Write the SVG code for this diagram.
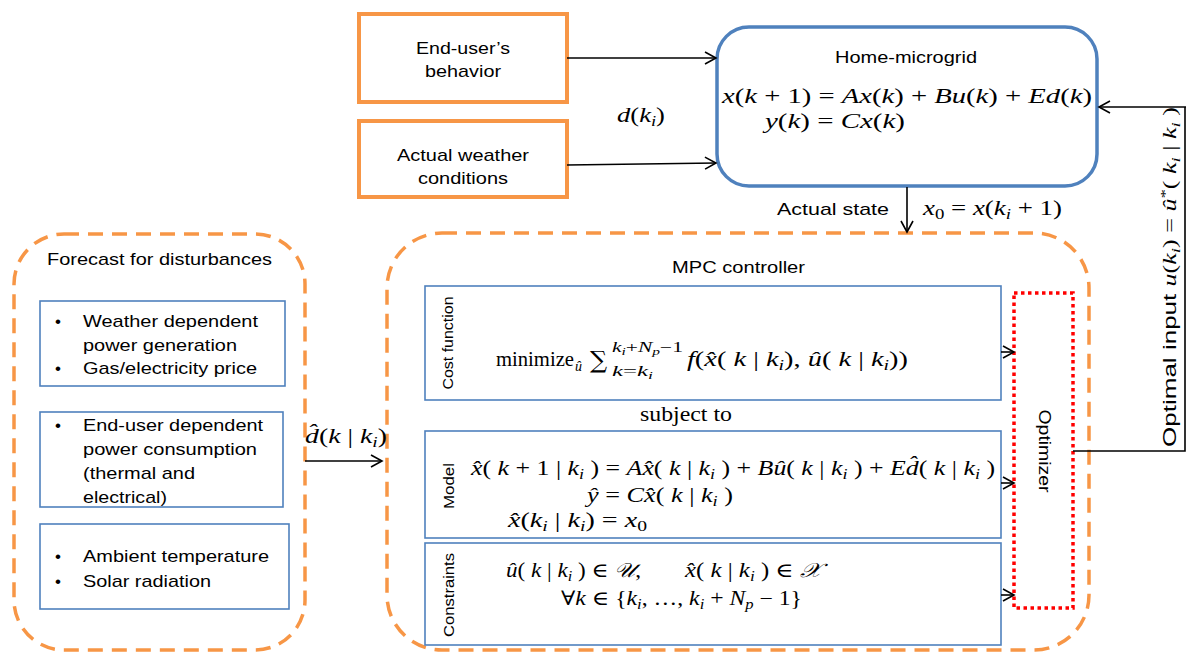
<svg xmlns="http://www.w3.org/2000/svg" width="1186" height="655" viewBox="0 0 1186 655">
<style>
.s{font-family:"Liberation Sans",Arial,sans-serif;fill:#000}
.m{font-family:"Liberation Serif","DejaVu Serif",serif;fill:#000}
.i{font-style:italic}
.ob{fill:#fff;stroke:#F79646;stroke-width:4}
.od{fill:none;stroke:#F79646;stroke-width:3.5;stroke-dasharray:15 9}
.bb{fill:#fff;stroke:#4F81BD;stroke-width:1.6}
.cn{fill:none;stroke:#000;stroke-width:1.6}
</style>
<defs>
<marker id="arr" markerWidth="14" markerHeight="14" refX="12" refY="7" orient="auto" markerUnits="userSpaceOnUse"><path d="M1,1 L12,7 L1,13" fill="none" stroke="#000" stroke-width="1.6"/></marker>
</defs>
<rect width="1186" height="655" fill="#fff"/>

<g id="forecast">
<rect class="od" x="14" y="234" width="291" height="416" rx="50"/>
<text class="s" x="47" y="265" font-size="17" textLength="225" lengthAdjust="spacingAndGlyphs">Forecast for disturbances</text>
</g>
<g id="forecast-weather">
<rect class="bb" x="40" y="301" width="245" height="85"/>
<text class="s" x="55" y="327" font-size="17">•</text>
<text class="s" x="55" y="374" font-size="17">•</text>
<text class="s" x="83" y="327" font-size="17" textLength="175" lengthAdjust="spacingAndGlyphs">Weather dependent</text>
<text class="s" x="83" y="351" font-size="17" textLength="154" lengthAdjust="spacingAndGlyphs">power generation</text>
<text class="s" x="83" y="374" font-size="17" textLength="174" lengthAdjust="spacingAndGlyphs">Gas/electricity price</text>
</g>
<g id="forecast-enduser">
<rect class="bb" x="40" y="412" width="243" height="95"/>
<text class="s" x="55" y="431" font-size="17">•</text>
<text class="s" x="83" y="431" font-size="17" textLength="180" lengthAdjust="spacingAndGlyphs">End-user dependent</text>
<text class="s" x="83" y="455" font-size="17" textLength="174" lengthAdjust="spacingAndGlyphs">power consumption</text>
<text class="s" x="83" y="479" font-size="17" textLength="112" lengthAdjust="spacingAndGlyphs">(thermal and</text>
<text class="s" x="83" y="503" font-size="17" textLength="84" lengthAdjust="spacingAndGlyphs">electrical)</text>
</g>
<g id="forecast-ambient">
<rect class="bb" x="40" y="524" width="249" height="85"/>
<text class="s" x="55" y="562" font-size="17">•</text>
<text class="s" x="55" y="587" font-size="17">•</text>
<text class="s" x="83" y="562" font-size="17" textLength="186" lengthAdjust="spacingAndGlyphs">Ambient temperature</text>
<text class="s" x="83" y="587" font-size="17" textLength="128" lengthAdjust="spacingAndGlyphs">Solar radiation</text>
</g>

<g id="enduser">
<rect class="ob" x="359" y="14" width="208" height="88"/>
<text class="s" x="416" y="54" font-size="17" textLength="94" lengthAdjust="spacingAndGlyphs">End-user’s</text>
<text class="s" x="425" y="77" font-size="17" textLength="76" lengthAdjust="spacingAndGlyphs">behavior</text>
</g>
<g id="weather">
<rect class="ob" x="359" y="121" width="208" height="76"/>
<text class="s" x="397" y="161" font-size="17" textLength="132" lengthAdjust="spacingAndGlyphs">Actual weather</text>
<text class="s" x="418" y="184" font-size="17" textLength="90" lengthAdjust="spacingAndGlyphs">conditions</text>
</g>

<g id="home">
<rect x="717" y="27" width="380" height="159" rx="32" fill="#fff" stroke="#4F81BD" stroke-width="3.5"/>
<text class="s" x="835" y="63" font-size="17" textLength="142" lengthAdjust="spacingAndGlyphs">Home-microgrid</text>
<text class="m" x="722" y="103" font-size="20" textLength="370" lengthAdjust="spacingAndGlyphs"><tspan class="i">x</tspan>(<tspan class="i">k</tspan> + 1) = <tspan class="i">Ax</tspan>(<tspan class="i">k</tspan>) + <tspan class="i">Bu</tspan>(<tspan class="i">k</tspan>) + <tspan class="i">Ed</tspan>(<tspan class="i">k</tspan>)</text>
<text class="m" x="765" y="128" font-size="20" textLength="140" lengthAdjust="spacingAndGlyphs"><tspan class="i">y</tspan>(<tspan class="i">k</tspan>) = <tspan class="i">Cx</tspan>(<tspan class="i">k</tspan>)</text>
</g>

<g id="mpc">
<rect class="od" x="387" y="233" width="702" height="417" rx="55"/>
<text class="s" x="672" y="273" font-size="17" textLength="133" lengthAdjust="spacingAndGlyphs">MPC controller</text>
<text class="m" x="640" y="421" font-size="20" textLength="92" lengthAdjust="spacingAndGlyphs">subject to</text>
</g>

<g id="cost">
<rect class="bb" x="425" y="286" width="576" height="114"/>
<text class="s" transform="translate(453,343) rotate(-90)" text-anchor="middle" font-size="15" textLength="93" lengthAdjust="spacingAndGlyphs">Cost function</text>
<text class="m" x="496" y="366" font-size="20" textLength="78" lengthAdjust="spacingAndGlyphs">minimize</text>
<text class="m i" x="575" y="371" font-size="14">û</text>
<text x="590" y="368" font-size="24" font-family="DejaVu Serif, serif">∑</text>
<text class="m" x="612" y="352" font-size="14" textLength="71" lengthAdjust="spacingAndGlyphs"><tspan class="i">k</tspan><tspan class="i" font-size="10" dy="3">i</tspan><tspan dy="-3">+</tspan><tspan class="i">N</tspan><tspan class="i" font-size="10" dy="3">p</tspan><tspan dy="-3">−1</tspan></text>
<text class="m" x="612" y="376" font-size="14" textLength="41" lengthAdjust="spacingAndGlyphs"><tspan class="i">k</tspan>=<tspan class="i">k</tspan><tspan class="i" font-size="10" dy="3">i</tspan></text>
<text class="m" x="687" y="366" font-size="20" textLength="221" lengthAdjust="spacingAndGlyphs"><tspan class="i">f</tspan>(<tspan class="i">x̂</tspan>( <tspan class="i">k</tspan> | <tspan class="i">k</tspan><tspan class="i" font-size="14" dy="4">i</tspan><tspan dy="-4">), </tspan><tspan class="i">û</tspan>( <tspan class="i">k</tspan> | <tspan class="i">k</tspan><tspan class="i" font-size="14" dy="4">i</tspan><tspan dy="-4">))</tspan></text>
</g>

<g id="model">
<rect class="bb" x="425" y="431" width="576" height="107"/>
<text class="s" transform="translate(454,486) rotate(-90)" text-anchor="middle" font-size="15" textLength="46" lengthAdjust="spacingAndGlyphs">Model</text>
<text class="m" x="471" y="475" font-size="20" textLength="524" lengthAdjust="spacingAndGlyphs"><tspan class="i">x̂</tspan>( <tspan class="i">k</tspan> + 1 | <tspan class="i">k</tspan><tspan class="i" font-size="14" dy="4">i</tspan><tspan dy="-4"> ) = </tspan><tspan class="i">Ax̂</tspan>( <tspan class="i">k</tspan> | <tspan class="i">k</tspan><tspan class="i" font-size="14" dy="4">i</tspan><tspan dy="-4"> ) + </tspan><tspan class="i">Bû</tspan>( <tspan class="i">k</tspan> | <tspan class="i">k</tspan><tspan class="i" font-size="14" dy="4">i</tspan><tspan dy="-4"> ) + </tspan><tspan class="i">Ed̂</tspan>( <tspan class="i">k</tspan> | <tspan class="i">k</tspan><tspan class="i" font-size="14" dy="4">i</tspan><tspan dy="-4"> )</tspan></text>
<text class="m" x="587" y="502" font-size="20" textLength="146" lengthAdjust="spacingAndGlyphs"><tspan class="i">ŷ</tspan> = <tspan class="i">Cx̂</tspan>( <tspan class="i">k</tspan> | <tspan class="i">k</tspan><tspan class="i" font-size="14" dy="4">i</tspan><tspan dy="-4"> )</tspan></text>
<text class="m" x="508" y="527" font-size="20" textLength="139" lengthAdjust="spacingAndGlyphs"><tspan class="i">x̂</tspan>(<tspan class="i">k</tspan><tspan class="i" font-size="14" dy="4">i</tspan><tspan dy="-4"> | </tspan><tspan class="i">k</tspan><tspan class="i" font-size="14" dy="4">i</tspan><tspan dy="-4">) = </tspan><tspan class="i">x</tspan><tspan font-size="14" dy="4">0</tspan></text>
</g>

<g id="constraints">
<rect class="bb" x="425" y="543" width="576" height="102"/>
<text class="s" transform="translate(454,595) rotate(-90)" text-anchor="middle" font-size="15" textLength="84" lengthAdjust="spacingAndGlyphs">Constraints</text>
<text class="m" x="506" y="577" font-size="20" textLength="135" lengthAdjust="spacingAndGlyphs"><tspan class="i">û</tspan>( <tspan class="i">k</tspan> | <tspan class="i">k</tspan><tspan class="i" font-size="14" dy="4">i</tspan><tspan dy="-4"> ) ∈ </tspan><tspan class="i">𝒰</tspan>,</text>
<text class="m" x="685" y="577" font-size="20" textLength="136" lengthAdjust="spacingAndGlyphs"><tspan class="i">x̂</tspan>( <tspan class="i">k</tspan> | <tspan class="i">k</tspan><tspan class="i" font-size="14" dy="4">i</tspan><tspan dy="-4"> ) ∈ </tspan><tspan class="i">𝒳</tspan></text>
<text class="m" x="561" y="605" font-size="20" textLength="241" lengthAdjust="spacingAndGlyphs">∀<tspan class="i">k</tspan> ∈ {<tspan class="i">k</tspan><tspan class="i" font-size="14" dy="4">i</tspan><tspan dy="-4">, …, </tspan><tspan class="i">k</tspan><tspan class="i" font-size="14" dy="4">i</tspan><tspan dy="-4"> + </tspan><tspan class="i">N</tspan><tspan class="i" font-size="14" dy="4">p</tspan><tspan dy="-4"> − 1}</tspan></text>
</g>

<g id="optimizer">
<rect x="1014" y="293" width="59" height="315" fill="none" stroke="#FF0000" stroke-width="3.5" stroke-dasharray="3.5 3.5"/>
<text class="s" transform="translate(1039,451) rotate(90)" text-anchor="middle" font-size="17" textLength="83" lengthAdjust="spacingAndGlyphs">Optimizer</text>
</g>

<g id="connectors">
<line class="cn" x1="567" y1="58" x2="716" y2="58" marker-end="url(#arr)"/>
<line class="cn" x1="567" y1="165" x2="716" y2="163" marker-end="url(#arr)"/>
<line class="cn" x1="1186" y1="107" x2="1099" y2="107" marker-end="url(#arr)"/>
<polyline class="cn" points="1073,451 1185,451 1185,107"/>
<line class="cn" x1="907" y1="187" x2="907" y2="232" marker-end="url(#arr)"/>
<line class="cn" x1="305" y1="461" x2="382" y2="461" marker-end="url(#arr)"/>
<line class="cn" x1="1001" y1="352" x2="1014" y2="352" marker-end="url(#arr)"/>
<line class="cn" x1="1001" y1="483" x2="1014" y2="483" marker-end="url(#arr)"/>
<line class="cn" x1="1001" y1="595" x2="1014" y2="595" marker-end="url(#arr)"/>
<text class="m" x="617" y="122" font-size="20" textLength="48" lengthAdjust="spacingAndGlyphs"><tspan class="i">d</tspan>(<tspan class="i">k</tspan><tspan class="i" font-size="14" dy="4">i</tspan><tspan dy="-4">)</tspan></text>
<text class="s" x="777" y="215" font-size="17" textLength="112" lengthAdjust="spacingAndGlyphs">Actual state</text>
<text class="m" x="923" y="215" font-size="20" textLength="139" lengthAdjust="spacingAndGlyphs"><tspan class="i">x</tspan><tspan font-size="14" dy="4">0</tspan><tspan dy="-4"> = </tspan><tspan class="i">x</tspan>(<tspan class="i">k</tspan><tspan class="i" font-size="14" dy="4">i</tspan><tspan dy="-4"> + 1)</tspan></text>
<text class="m" x="305" y="443" font-size="20" textLength="82" lengthAdjust="spacingAndGlyphs"><tspan class="i">d̂</tspan>(<tspan class="i">k</tspan> | <tspan class="i">k</tspan><tspan class="i" font-size="14" dy="4">i</tspan><tspan dy="-4">)</tspan></text>
<text transform="translate(1176,447) rotate(-90)" font-size="18" textLength="340" lengthAdjust="spacingAndGlyphs"><tspan class="s">Optimal input </tspan><tspan class="m i">u</tspan><tspan class="m">(</tspan><tspan class="m i">k</tspan><tspan class="m i" font-size="13" dy="4">i</tspan><tspan class="m" dy="-4">) = </tspan><tspan class="m i">û</tspan><tspan class="m" font-size="13" dy="-7">*</tspan><tspan class="m" dy="7">( </tspan><tspan class="m i">k</tspan><tspan class="m i" font-size="13" dy="4">i</tspan><tspan class="m" dy="-4"> | </tspan><tspan class="m i">k</tspan><tspan class="m i" font-size="13" dy="4">i</tspan><tspan class="m" dy="-4"> )</tspan></text>
</g>
</svg>
